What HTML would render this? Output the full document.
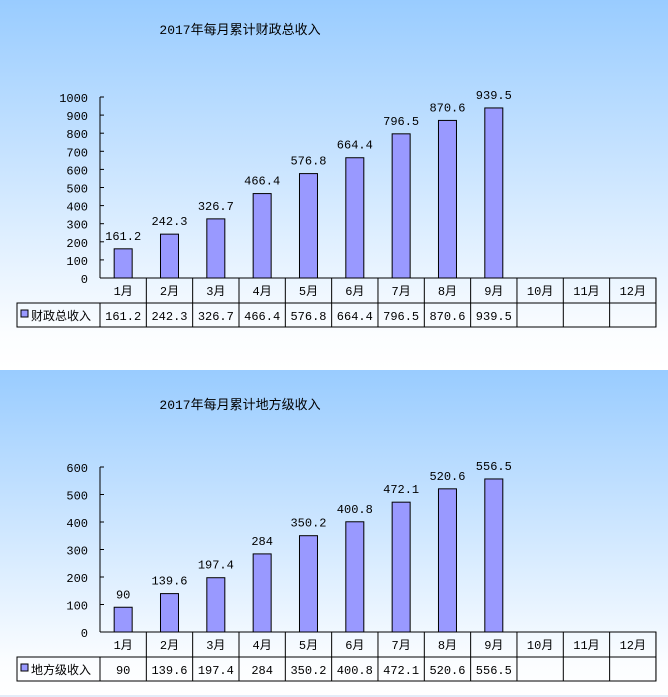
<!DOCTYPE html>
<html><head><meta charset="utf-8"><style>
body{margin:0;width:668px;height:697px;overflow:hidden;background:#fff}
svg{display:block;font-family:"Liberation Mono","Noto Sans CJK SC",monospace;font-size:12px}
</style></head><body>
<svg id="c" width="668" height="697">
<defs><linearGradient id="g" x1="0" y1="0" x2="0" y2="1"><stop offset="0" stop-color="#99ccff"/><stop offset="0.9" stop-color="#fbfdff"/><stop offset="1" stop-color="#ffffff"/></linearGradient></defs>
</svg>
<script>
const months=["1月","2月","3月","4月","5月","6月","7月","8月","9月","10月","11月","12月"];
const totalVals=[161.2,242.3,326.7,466.4,576.8,664.4,796.5,870.6,939.5];
const localVals=[90,139.6,197.4,284,350.2,400.8,472.1,520.6,556.5];
const totalTicks=[0,100,200,300,400,500,600,700,800,900,1000];
const localTicks=[0,100,200,300,400,500,600];
const NS="http://www.w3.org/2000/svg";
const svg=document.getElementById('c');
function el(t,a,txt,p){const e=document.createElementNS(NS,t);for(const k in a)e.setAttribute(k,a[k]);if(txt!==undefined)e.textContent=txt;(p||svg).appendChild(e);return e;}
function chart(o){
  const g=el('g',{});
  
  
  const bg=el('rect',{x:0,y:o.top,width:668,height:o.h,fill:'url(#g)'},undefined,g);
  
  
  const t=el('text',{x:240,y:o.titleY,'text-anchor':'middle','font-size':'13'},o.title,g);
  
  
  const x0=100,cw=46.33,y0=o.y0,ppu=o.ppu,max=o.ticks[o.ticks.length-1];
  const ys=v=>y0-v*ppu;
  el('line',{x1:x0,y1:ys(max),x2:x0,y2:y0,stroke:'#000'},undefined,g);
  o.ticks.forEach(v=>{
    el('line',{x1:x0,y1:ys(v),x2:x0+4,y2:ys(v),stroke:'#000'},undefined,g);
    const tl=el('text',{x:x0-12,y:ys(v)+5,'text-anchor':'end'},v,g);
    
    
  });
  o.vals.forEach((v,i)=>{
    const cx=x0+cw*(i+0.5);
    const b=el('rect',{x:cx-9,y:ys(v),width:18,height:v*ppu,fill:'#9999ff',stroke:'#000'},undefined,g);
    
    
    const l=el('text',{x:cx,y:ys(v)-9,'text-anchor':'middle'},v,g);
    
    
  });
  const r1=y0+25,r2=y0+49,xe=x0+cw*12;
  el('path',{d:`M${x0} ${y0}H${xe}V${r2}H17V${r1}H${xe}M${x0} ${r1}V${r2}M17 ${r1}V${r2}`,fill:'none',stroke:'#000'},undefined,g);
  months.forEach((m,i)=>{
    const xa=x0+cw*(i+1);
    el('line',{x1:xa,y1:y0,x2:xa,y2:r2,stroke:'#000'},undefined,g);
    const cx=x0+cw*(i+0.5);
    const ml=el('text',{x:cx,y:y0+17,'text-anchor':'middle'},m,g);
    
    
    if(i<o.vals.length){const dl=el('text',{x:cx,y:r1+17,'text-anchor':'middle'},o.vals[i],g);
      
      }
  });
  el('rect',{x:21,y:r1+7,width:7,height:7,fill:'#9999ff',stroke:'#000'},undefined,g);
  const sl=el('text',{x:31,y:r1+17},o.series,g);
  
  
}
chart({name:'total-revenue-chart',top:0,h:370,titleY:34,title:'2017年每月累计财政总收入',y0:278,ppu:0.181,ticks:totalTicks,vals:totalVals,series:'财政总收入'});
chart({name:'local-revenue-chart',top:370,h:325,titleY:409,title:'2017年每月累计地方级收入',y0:632,ppu:0.275,ticks:localTicks,vals:localVals,series:'地方级收入'});
el('line',{x1:0,y1:696,x2:668,y2:696,stroke:'#c8daf0'});
</script>
</body></html>
